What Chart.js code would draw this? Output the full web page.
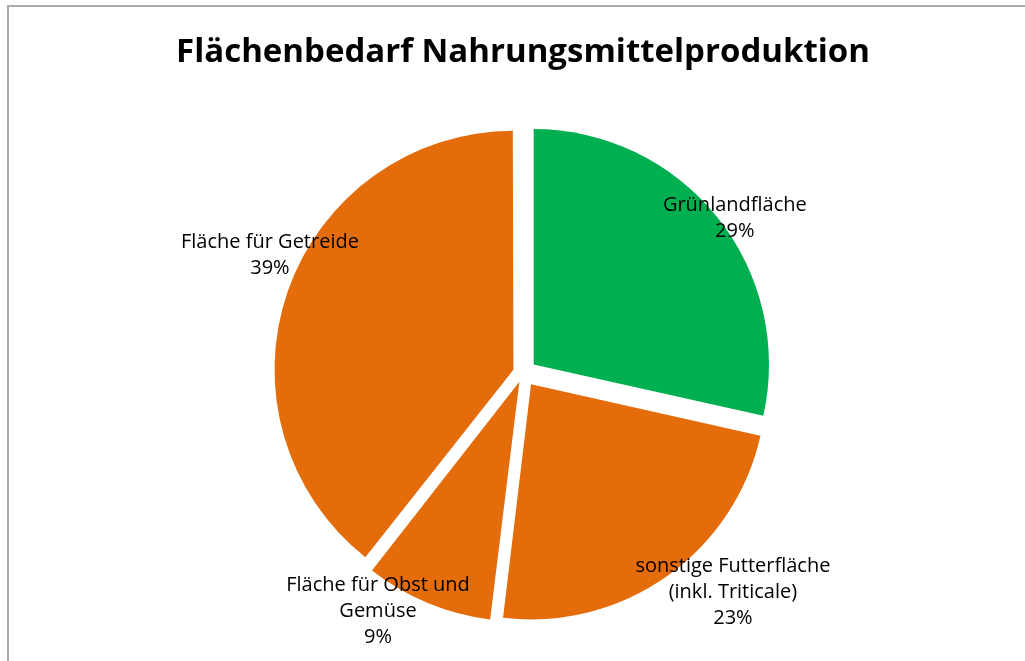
<!DOCTYPE html>
<html>
<head>
<meta charset="utf-8">
<script src="https://cdn.jsdelivr.net/npm/chart.js@4.4.1/dist/chart.umd.min.js"></script>
<style>
  html, body { margin: 0; padding: 0; background: #fff; }
  #wrap { position: relative; width: 1025px; height: 661px; overflow: hidden; }
  #frame { position: absolute; left: 7px; top: 5px; width: 1100px; height: 700px;
           border-top: 2px solid #ababab; border-left: 2px solid #ababab; }
  canvas { position: absolute; left: 0; top: 0; }
</style>
</head>
<body>
<div id="wrap">
  <div id="frame"></div>
  <canvas id="c" width="1025" height="661"></canvas>
</div>
<script>
// ---- data ----
const titleText = 'Flächenbedarf Nahrungsmittelproduktion';
const categories = [
  ['Grünlandfläche'],
  ['sonstige Futterfläche', '(inkl. Triticale)'],
  ['Fläche für Obst und', 'Gemüse'],
  ['Fläche für Getreide']
];
// shares in % (labels show them rounded)
const shares = [28.5, 23.4, 8.7, 39.4];
const sliceColors = ['#00B050', '#E46C0A', '#E46C0A', '#E46C0A'];
// label placement relative to each slice: [radius factor, angle shift in degrees]
const labelPlacement = [[1.117, 2.5], [1.291, -8.5], [1.186, 8.85], [1.188, 5.9]];

const explodePx = 14;   // wanted outward shift of every slice
const labelFont = '20px "Open Sans", sans-serif';
const labelLineHeight = 26;

// Chart.js shifts an arc by offset/4 * (1 + fix); invert that so all slices move equally
function sliceOffset(ctx) {
  const data = ctx.dataset.data;
  const total = data.reduce((a, b) => a + b, 0);
  const circ = 2 * Math.PI * data[ctx.dataIndex] / total;
  const fix = 1 - Math.sin(Math.min(Math.PI, circ));
  return 4 * explodePx / (1 + fix);
}

const sliceLabels = {
  id: 'sliceLabels',
  afterDatasetsDraw(chart) {
    const ctx = chart.ctx;
    const meta = chart.getDatasetMeta(0);
    const ds = chart.data.datasets[0];
    ctx.save();
    ctx.font = labelFont;
    ctx.fillStyle = '#000';
    ctx.textAlign = 'center';
    ctx.textBaseline = 'middle';
    meta.data.forEach((arc, i) => {
      const p = arc.getProps(['x', 'y', 'startAngle', 'endAngle', 'outerRadius'], true);
      const mid = (p.startAngle + p.endAngle) / 2;
      const [k, dDeg] = labelPlacement[i];
      const a = mid + dDeg * Math.PI / 180;
      const cx = p.x + Math.cos(a) * p.outerRadius * k;
      const cy = p.y + Math.sin(a) * p.outerRadius * k;
      const lines = categories[i].concat([Math.round(ds.data[i]) + '%']);
      const y0 = cy - (lines.length - 1) * labelLineHeight / 2;
      lines.forEach((t, j) => ctx.fillText(t, cx, y0 + j * labelLineHeight));
    });
    ctx.restore();
  }
};

new Chart(document.getElementById('c'), {
  type: 'pie',
  data: {
    labels: categories.map(c => c.join(' ')),
    datasets: [{
      data: shares,
      backgroundColor: sliceColors,
      borderWidth: 0,
      offset: sliceOffset
    }]
  },
  options: {
    responsive: false,
    animation: false,
    radius: 235,
    layout: { padding: { left: 21, right: 0, top: 0, bottom: 0 } },
    plugins: {
      legend: { display: false },
      tooltip: { enabled: false },
      title: {
        display: true,
        text: titleText,
        color: '#000',
        font: { family: '"Open Sans", sans-serif', size: 33, weight: 'bold', lineHeight: 1.2 },
        padding: { top: 33, bottom: 12.4 }
      }
    }
  },
  plugins: [sliceLabels]
});
</script>
</body>
</html>
